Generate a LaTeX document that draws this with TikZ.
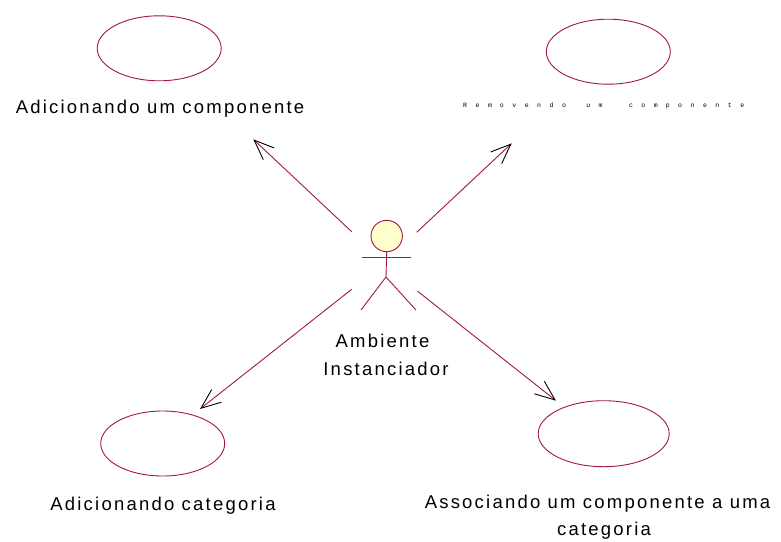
\documentclass[tikz,border=0pt]{standalone}
\usepackage{fontspec}
\setmainfont{Liberation Sans}[LetterSpace=12]
\newfontfamily\tinyfont{Liberation Mono}[LetterSpace=131]
\usetikzlibrary{arrows.meta,shapes.geometric}
\definecolor{rose}{RGB}{163,22,72}
\definecolor{headfill}{RGB}{255,255,204}
\begin{document}
\begin{tikzpicture}[x=1pt,y=-1pt,
  usecase/.style={draw=rose,line width=0.9pt,ellipse,fill=white,inner sep=0pt},
  lbl/.style={font=\fontsize{18.5}{22}\selectfont,text=black,inner sep=0pt,anchor=base},
  conn/.style={draw=rose,line width=0.9pt,-{Straight Barb[length=20pt,width=16pt,color=black,line width=0.9pt]}},
  actorline/.style={draw=rose,line width=0.9pt}]
\useasboundingbox (0,0) rectangle (781,541);
% use cases
\node[usecase,minimum width=124pt,minimum height=65pt] (e1) at (159.2,48.3) {};
\node[usecase,minimum width=124pt,minimum height=65pt] (e2) at (608.3,51.7) {};
\node[usecase,minimum width=124pt,minimum height=65pt] (e3) at (162.7,443.5) {};
\node[usecase,minimum width=131pt,minimum height=66pt] (e4) at (603.7,433.7) {};
% labels
\node[lbl] (l1) at (160,113) {Adicionando um componente};
\node[inner sep=0pt,anchor=base west,font=\tinyfont\fontsize{6.5}{7}\selectfont,text=black] (l2) at (463,107.7) {Rem\kern8pt ovendo\kern8pt{} um\kern14pt{} com\kern8pt ponente};
\node[lbl] (l3) at (163,510.7) {Adicionando categoria};
\node[lbl] (l4a) at (597.5,508) {Associando um componente a uma};
\node[lbl] (l4b) at (604,535) {categoria};
% actor
\node[draw=rose,line width=0.9pt,fill=headfill,circle,minimum size=31.4pt,inner sep=0pt] (head) at (386.7,236) {};
\coordinate (neck) at (386,252);
\coordinate (hip) at (386,277);
\coordinate (armL) at (361.5,257.3);
\coordinate (armR) at (410.5,257.3);
\coordinate (legL) at (361,310);
\coordinate (legR) at (416,310);
\draw[actorline] (head.south) -- (hip);
\draw[actorline] (armL) -- (armR);
\draw[actorline] (legL) -- (hip) -- (legR);
\node[lbl] (a1) at (382.5,347) {Ambiente};
\node[lbl] (a2) at (386,375) {Instanciador};
% connector ends
\coordinate (s1) at (351.7,231.7);
\coordinate (t1) at (253.3,139.3);
\coordinate (s2) at (416.7,232.3);
\coordinate (t2) at (511.7,143.3);
\coordinate (s3) at (351.7,289.3);
\coordinate (t3) at (200,409);
\coordinate (s4) at (417.3,291);
\coordinate (t4) at (556,400.7);
\draw[conn] (s1) -- (t1);
\draw[conn] (s2) -- (t2);
\draw[conn] (s3) -- (t3);
\draw[conn] (s4) -- (t4);
\end{tikzpicture}
\end{document}
